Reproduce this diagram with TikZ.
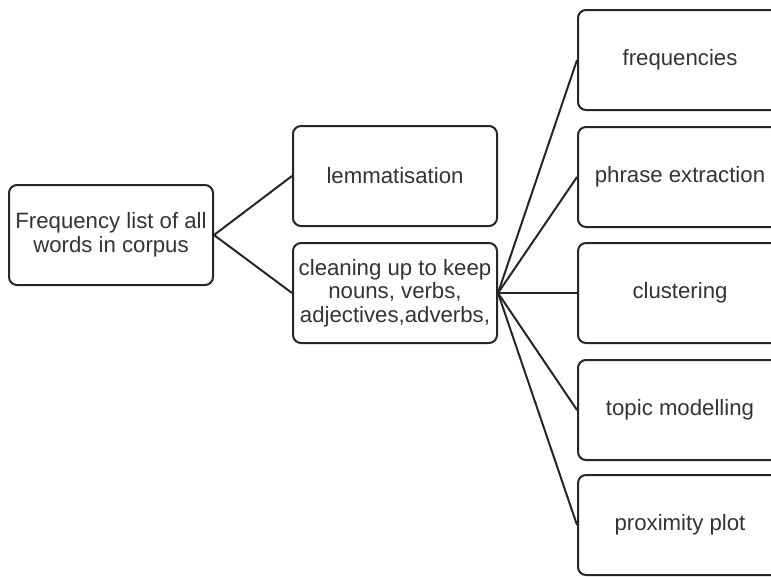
\documentclass[tikz,border=0pt]{standalone}
\usepackage{fontspec}
\setmainfont{Liberation Sans}
\definecolor{linec}{HTML}{262626}
\definecolor{textc}{HTML}{333333}
\begin{document}
\begin{tikzpicture}[x=1pt,y=-1pt,
  box/.style={draw=linec, line width=2pt, rounded corners=8pt, minimum width=204pt, minimum height=100pt, align=center, text=textc, font=\fontsize{22.2}{23.5}\selectfont, inner sep=1pt},
  link/.style={draw=linec, line width=2pt}]
\useasboundingbox (0,0) rectangle (771,576);
\begin{scope}
\clip (0,0) rectangle (771,576);
\node[box] (src) at (111,235) {Frequency list of all\\words in corpus};
\node[box] (lem) at (395,176) {lemmatisation};
\node[box] (cln) at (395,293) {cleaning up to keep\\nouns, verbs,\\adjectives,adverbs,};
\node[box] (frq) at (680,60) {frequencies};
\node[box] (phr) at (680,177) {phrase extraction};
\node[box] (clu) at (680,293) {clustering};
\node[box] (top) at (680,410) {topic modelling};
\node[box] (prx) at (680,525) {proximity plot};
\draw[link] (src.east) -- (lem.west);
\draw[link] (src.east) -- (cln.west);
\draw[link] (cln.east) -- (frq.west);
\draw[link] (cln.east) -- (phr.west);
\draw[link] (cln.east) -- (clu.west);
\draw[link] (cln.east) -- (top.west);
\draw[link] (cln.east) -- (prx.west);
\end{scope}
\end{tikzpicture}
\end{document}
